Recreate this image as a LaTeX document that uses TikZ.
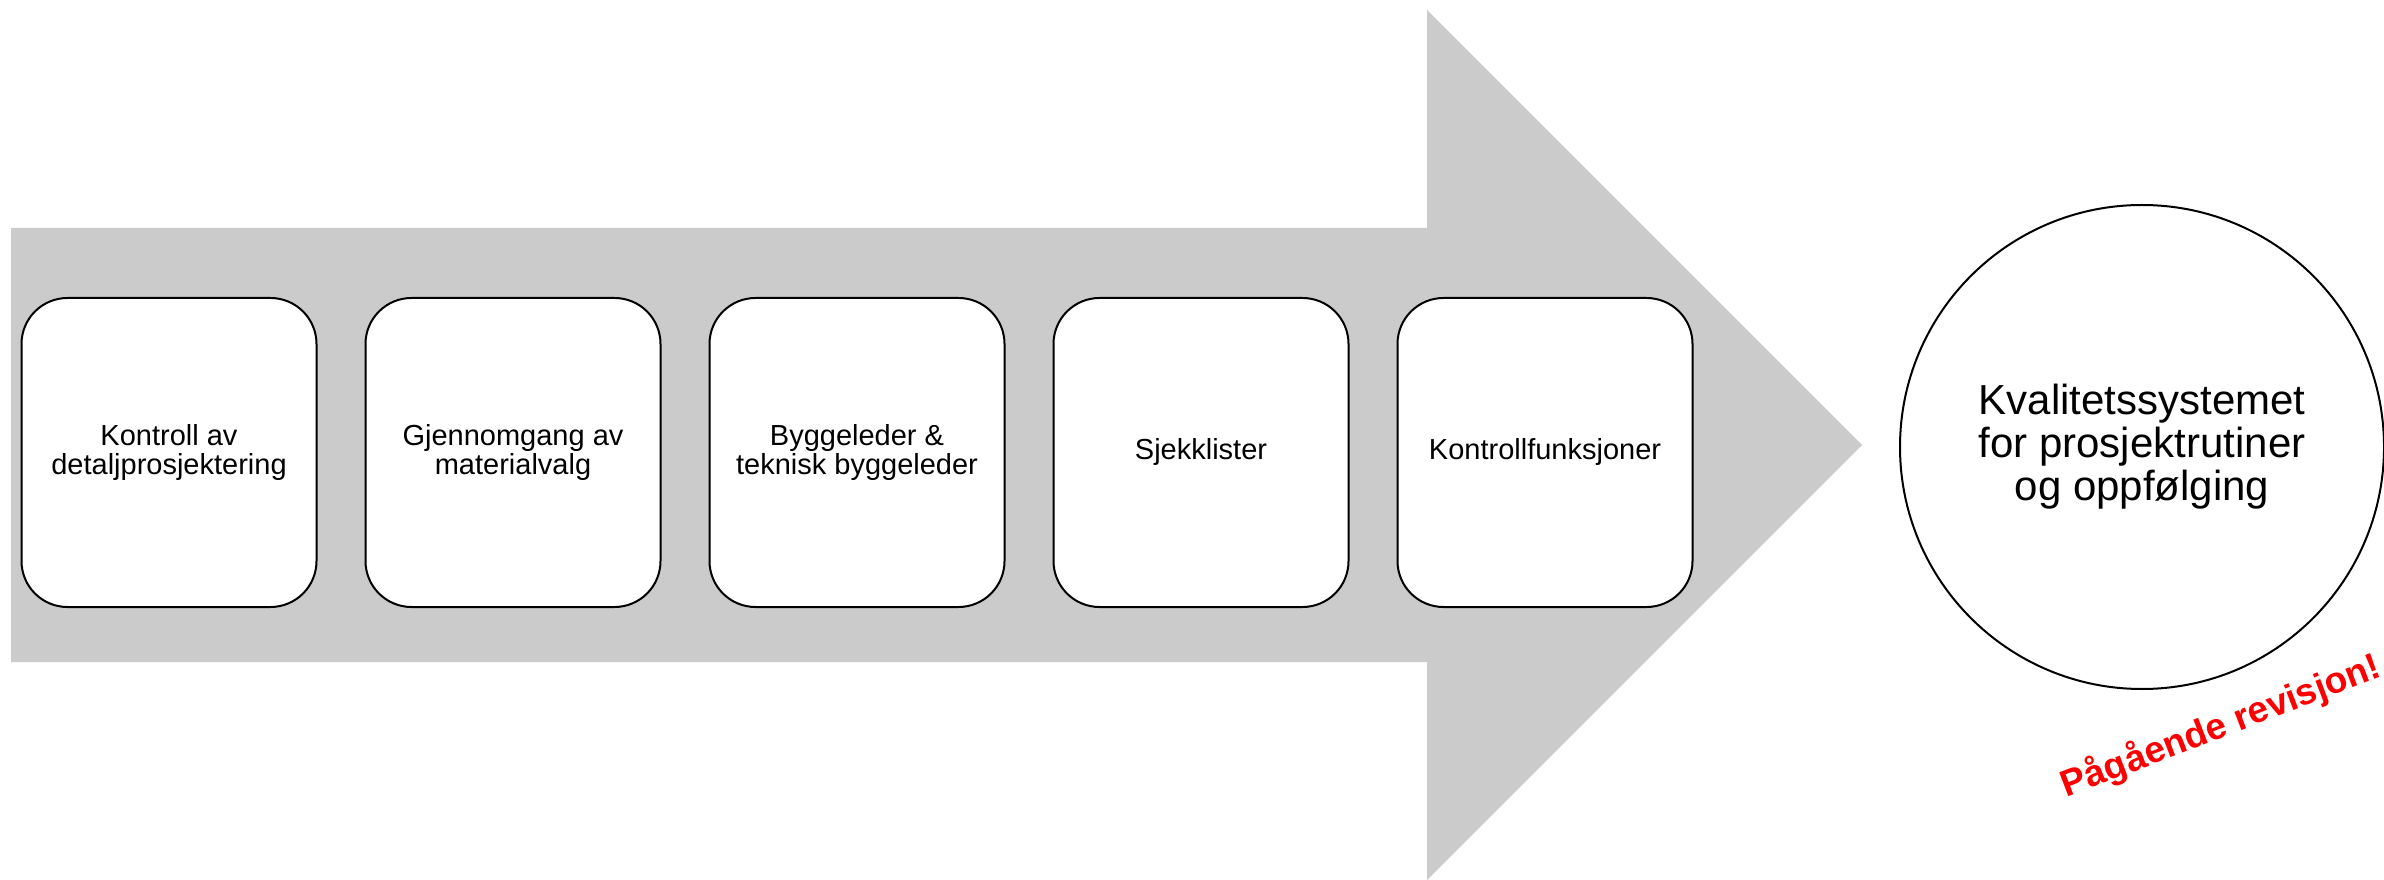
\documentclass[tikz,border=0pt]{standalone}
\usepackage{fontspec}
\setmainfont{Liberation Sans}
\definecolor{arrowgray}{RGB}{203,203,203}
\definecolor{revred}{RGB}{255,0,0}
\begin{document}
\begin{tikzpicture}[x=1pt,y=1pt,
  stepbox/.style={draw=black, line width=2pt, fill=white, rounded corners=46pt,
    minimum width=295pt, minimum height=309pt, align=center, inner sep=0pt,
    font=\fontsize{29}{29}\selectfont},
  goalcircle/.style={circle, draw=black, line width=2pt, fill=white, minimum size=484pt,
    align=center, inner sep=0pt, font=\fontsize{42}{43}\selectfont},
  revtext/.style={rotate=21, font=\bfseries\fontsize{37}{37}\selectfont, inner sep=0pt}]
\useasboundingbox (0,0) rectangle (2384,879);
\fill[arrowgray] (11,651) -- (1427,651) -- (1427,869) -- (1862,434) -- (1427,-1) -- (1427,217) -- (11,217) -- cycle;
\node[stepbox] (b1) at (169,426.5) {Kontroll av\\detaljprosjektering};
\node[stepbox] (b2) at (513,426.5) {Gjennomgang av\\materialvalg};
\node[stepbox] (b3) at (857,426.5) {Byggeleder \&\\teknisk byggeleder};
\node[stepbox] (b4) at (1201,426.5) {Sjekklister};
\node[stepbox] (b5) at (1545,426.5) {Kontrollfunksjoner};
\node[goalcircle] (goal) at (2142,432) {Kvalitetssystemet\\for prosjektrutiner\\og oppfølging};
\node[revtext, text=revred] (rev) at (2221,153) {Pågående revisjon!};
\end{tikzpicture}
\end{document}
